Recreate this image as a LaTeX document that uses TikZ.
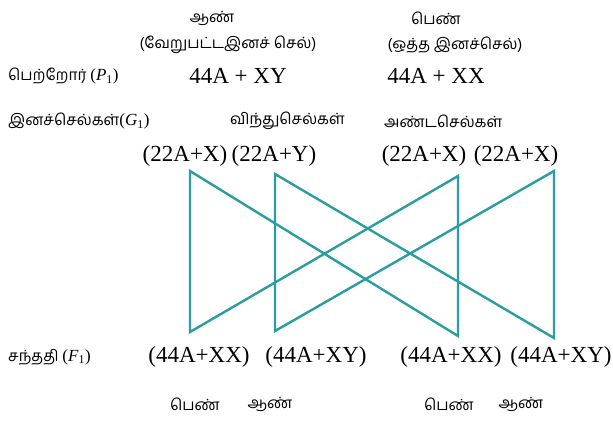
\documentclass[tikz,border=0pt]{standalone}
\usepackage{fontspec}
\setmainfont{Liberation Serif}
\newfontfamily\tamil[Script=Tamil]{Hind Madurai}
\definecolor{linkteal}{HTML}{2A9DA0}
\newcommand{\genlabel}[1]{{\rmfamily\fontsize{17}{20}\selectfont(\textit{#1}\textsubscript{1})}}
\begin{document}
\begin{tikzpicture}[x=1pt, y=-1pt,
  chrom/.style={inner sep=0pt, font=\fontsize{23}{26}\selectfont},
  tam/.style={inner sep=0pt, font=\tamil\fontsize{15.5}{18}\selectfont},
  rowlabel/.style={tam, anchor=west},
  link/.style={linkteal, line width=2.4pt, line join=miter}]
  \useasboundingbox (0,0) rectangle (613,422);
  % parents
  \node[tam] (male) at (212,18) {ஆண்};
  \node[tam] (female) at (436,18) {பெண்};
  \node[tam] (maletype) at (228,45) {(வேறுபட்டஇனச் செல்)};
  \node[tam] (femaletype) at (455,45) {(ஒத்த இனச்செல்)};
  \node[rowlabel] (parents) at (8,76) {பெற்றோர் \genlabel{P}};
  \node[chrom] (pmale) at (238,76) {44A + XY};
  \node[chrom] (pfemale) at (436,76) {44A + XX};
  % gametes
  \node[rowlabel] (gametes) at (8,121) {இனச்செல்கள்\genlabel{G}};
  \node[rowlabel] (sperm) at (230,121) {விந்துசெல்கள்};
  \node[rowlabel] (egg) at (384,121) {அண்டசெல்கள்};
  \node[chrom] (g1) at (185,156) {(22A+X)};
  \node[chrom] (g2) at (274,156) {(22A+Y)};
  \node[chrom] (g3) at (424,156) {(22A+X)};
  \node[chrom] (g4) at (516,156) {(22A+X)};
  % offspring
  \node[rowlabel] (offspring) at (8,357) {சந்ததி \genlabel{F}};
  \node[chrom] (f1) at (199,357) {(44A+XX)};
  \node[chrom] (f2) at (316,357) {(44A+XY)};
  \node[chrom] (f3) at (451,357) {(44A+XX)};
  \node[chrom] (f4) at (561,357) {(44A+XY)};
  \node[tam] (s1) at (195,404) {பெண்};
  \node[tam] (s2) at (270,404) {ஆண்};
  \node[tam] (s3) at (449,404) {பெண்};
  \node[tam] (s4) at (521,404) {ஆண்};
  % crossing lines
  \coordinate (t1) at (190,171); \coordinate (b1) at (190,332);
  \coordinate (t2) at (275,174); \coordinate (b2) at (275,331);
  \coordinate (t3) at (458,176); \coordinate (b3) at (458,336);
  \coordinate (t4) at (554,171); \coordinate (b4) at (554,338);
  \draw[link] (t1) -- (b1) -- (t3) -- (b3) -- cycle;
  \draw[link] (t2) -- (b2) -- (t4) -- (b4) -- cycle;
\end{tikzpicture}
\end{document}
